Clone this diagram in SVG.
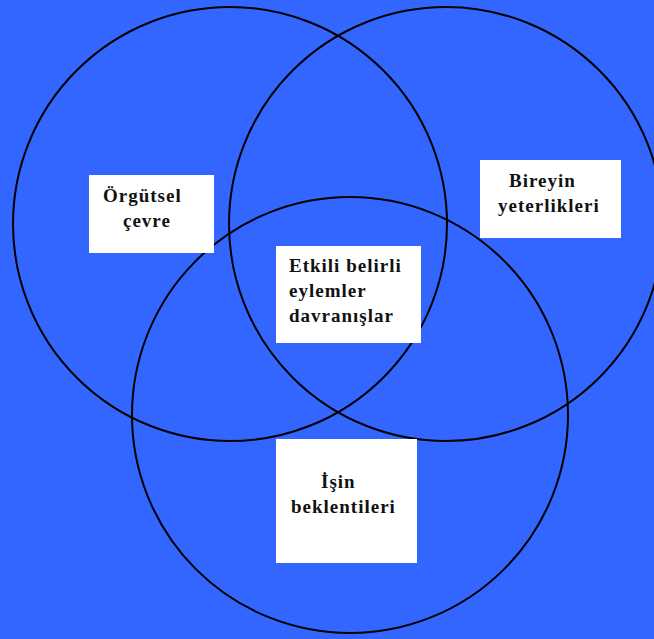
<svg xmlns="http://www.w3.org/2000/svg" width="654" height="639" viewBox="0 0 654 639">
<style>
.c{fill:none;stroke:#000;stroke-width:2}
.b{fill:#fff}
.t{font-family:"Liberation Serif","Times New Roman",serif;font-weight:bold;font-size:19px;fill:#111;letter-spacing:1px}
</style>
<rect width="654" height="639" fill="#3366FF"/>
<g id="circles">
<circle class="c" cx="230" cy="224" r="217"/>
<circle class="c" cx="446" cy="224" r="217"/>
<circle class="c" cx="350" cy="415" r="218"/>
</g>
<g id="orgutsel">
<rect class="b" x="89" y="175" width="125" height="78"/>
<text class="t" x="103" y="202">Örgütsel</text>
<text class="t" x="123" y="227">çevre</text>
</g>
<g id="bireyin">
<rect class="b" x="480" y="160" width="141" height="78"/>
<text class="t" x="509" y="187">Bireyin</text>
<text class="t" x="498" y="212">yeterlikleri</text>
</g>
<g id="etkili">
<rect class="b" x="276" y="246" width="145" height="97"/>
<text class="t" x="289" y="272">Etkili belirli</text>
<text class="t" x="289" y="297">eylemler</text>
<text class="t" x="289" y="322">davranışlar</text>
</g>
<g id="isin">
<rect class="b" x="276" y="439" width="141" height="124"/>
<text class="t" x="321" y="488">İşin</text>
<text class="t" x="291" y="513">beklentileri</text>
</g>
</svg>
